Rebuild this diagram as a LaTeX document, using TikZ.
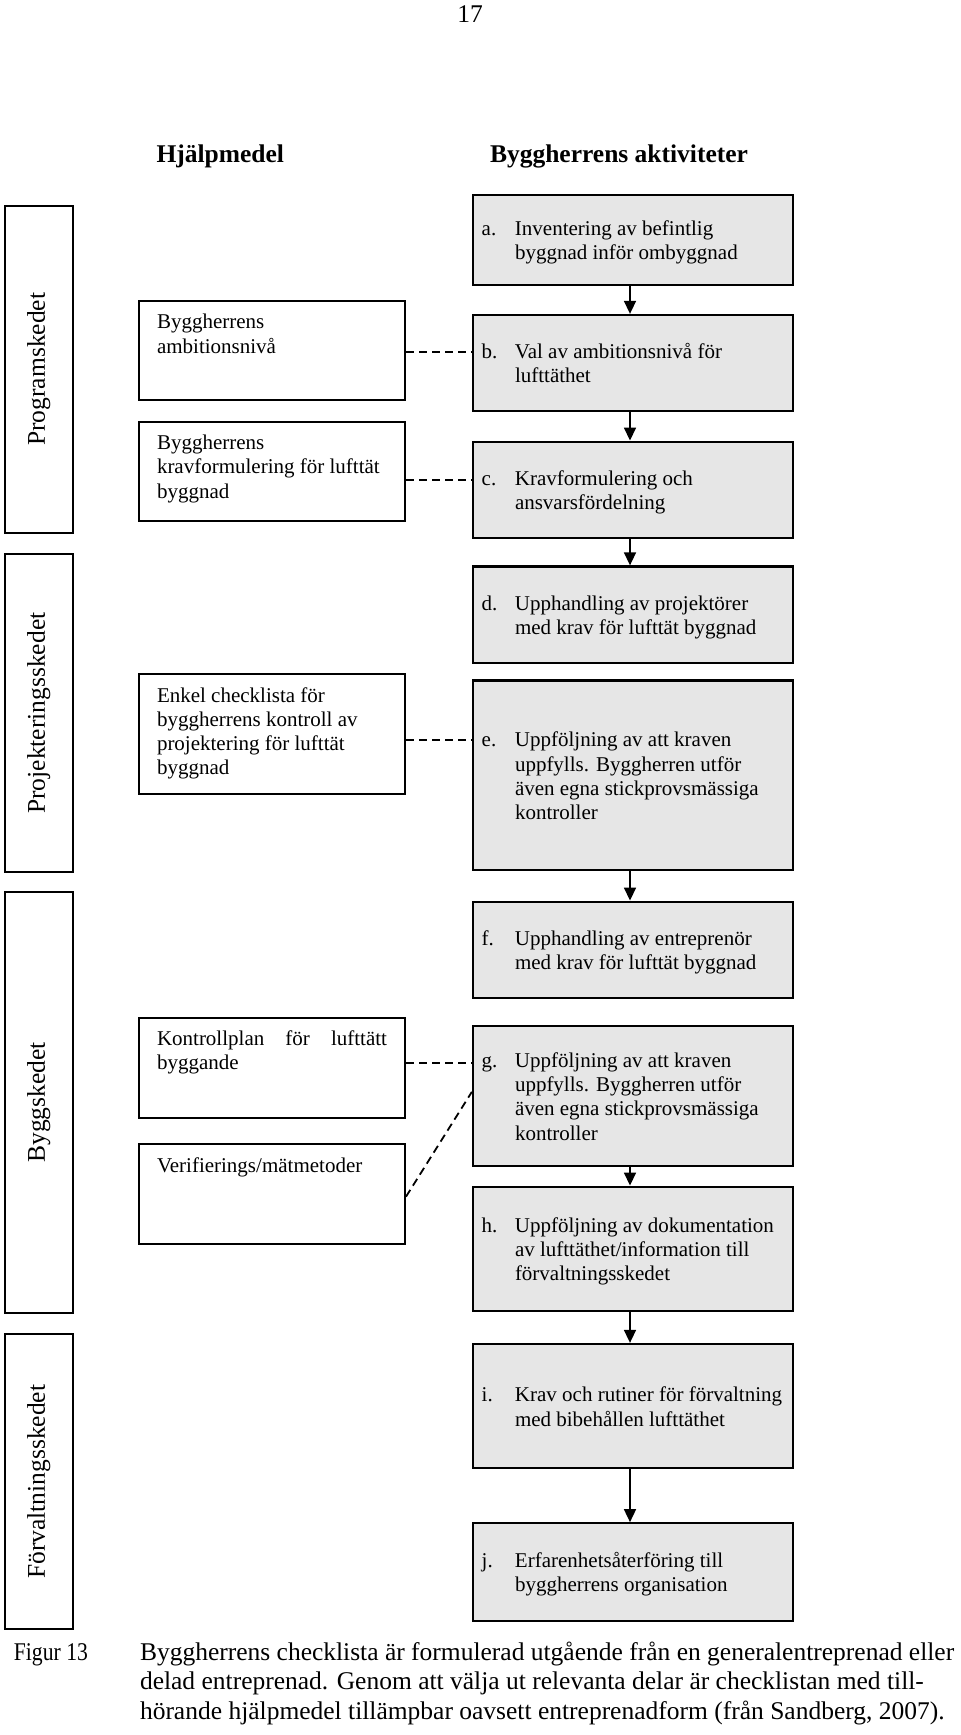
\documentclass[tikz,border=0pt]{standalone}
\usepackage{fontspec}
\setmainfont{Liberation Serif}
\usetikzlibrary{arrows.meta}
\newlength\px
\setlength\px{0.5pt}
\definecolor{actfill}{RGB}{230,230,230}
\newcommand\act[2]{\makebox[302.6\px][l]{\raisebox{-3\px}[\height][\depth]{\begin{tabular}{@{}p{33.3\px}@{}l@{}}#1 & #2\end{tabular}}}}
\newcommand\hjtxt[2]{\parbox[c][#1\px][t]{230\px}{\vspace*{11\px}#2}}
\begin{document}
\begin{tikzpicture}[x=0.5pt,y=-0.5pt,
  small/.style={font=\fontsize{10.5}{12.1}\selectfont},
  big/.style={font=\fontsize{12.75}{14.85}\selectfont},
  phase/.style={draw, line width=0.85pt, rotate=90, inner sep=0pt,
    minimum height=67.7\px, big},
  hj/.style={draw, line width=1pt, inner sep=0pt, minimum width=266\px, small},
  actbox/.style={draw, fill=actfill, line width=1.15pt, inner xsep=8.7\px,
    inner ysep=0pt, small},
  arr/.style={line width=0.8pt, -{Triangle[width=6pt,length=6.5pt]}},
  dashline/.style={line width=0.9pt, dash pattern=on 4pt off 2.5pt}
]
\useasboundingbox (0,0) rectangle (960,1735);

% page number and headers
\node[big, anchor=base] (pnum) at (470,22) {17};
\node[big, anchor=base, font=\fontsize{12.75}{14.85}\selectfont\bfseries] (h1) at (220.3,162.7) {Hjälpmedel};
\node[big, anchor=base, font=\fontsize{12.75}{14.85}\selectfont\bfseries] (h2) at (619,162.7) {Byggherrens aktiviteter};

% phases
\node[phase, minimum width=327\px] (p1) at (38.85,369.2) {Programskedet};
\node[phase, minimum width=318.3\px] (p2) at (38.85,713.15) {Projekteringsskedet};
\node[phase, minimum width=421.6\px] (p3) at (38.85,1102.5) {Byggskedet};
\node[phase, minimum width=295.3\px] (p4) at (38.85,1481.65) {Förvaltningsskedet};

% aids (hjälpmedel)
\node[hj] (amb) at (272,350.5) {\hjtxt{99}{\strut\mbox{Byggherrens}\\\mbox{ambitionsnivå}}};
\node[hj] (krav) at (272,471.35) {\hjtxt{99.3}{\strut\mbox{Byggherrens}\\\mbox{kravformulering för lufttät}\\\mbox{byggnad}}};
\node[hj] (enkel) at (272,734.15) {\hjtxt{119.7}{\strut\mbox{Enkel checklista för}\\\mbox{byggherrens kontroll av}\\\mbox{projektering för lufttät}\\\mbox{byggnad}}};
\node[hj] (kontroll) at (272,1067.7) {\hjtxt{100}{\strut\hbox to 230\px{Kontrollplan\hfill för\hfill lufttätt}\\\mbox{byggande}}};
\node[hj] (verif) at (272,1194.15) {\hjtxt{99.7}{\strut\mbox{Verifierings/mätmetoder}}};

% activities
\node[actbox, minimum height=90\px] (a) at (633,240) {\act{a.}{Inventering av befintlig\\ & byggnad inför ombyggnad}};
\node[actbox, minimum height=95.7\px] (b) at (633,362.85) {\act{b.}{Val av ambitionsnivå för\\ & lufttäthet}};
\node[actbox, minimum height=96.6\px] (c) at (633,490) {\act{c.}{Kravformulering och\\ & ansvarsfördelning}};
\node[actbox, minimum height=96.5\px] (d) at (633,614.75) {\act{d.}{Upphandling av projektörer\\ & med krav för lufttät byggnad}};
\node[actbox, minimum height=189.5\px] (e) at (633,775.25) {\act{e.}{Uppföljning av att kraven\\ & uppfylls. Byggherren utför\\ & även egna stickprovsmässiga\\ & kontroller}};
\node[actbox, minimum height=96.6\px] (f) at (633,950) {\act{f.}{Upphandling av entreprenör\\ & med krav för lufttät byggnad}};
\node[actbox, minimum height=139.7\px] (g) at (633,1095.85) {\act{g.}{Uppföljning av att kraven\\ & uppfylls. Byggherren utför\\ & även egna stickprovsmässiga\\ & kontroller}};
\node[actbox, minimum height=124.3\px] (h) at (633,1248.85) {\act{h.}{Uppföljning av dokumentation\\ & av lufttäthet/information till\\ & förvaltningsskedet}};
\node[actbox, minimum height=124.3\px] (i) at (633,1406.15) {\act{i.}{Krav och rutiner för förvaltning\\ & med bibehållen lufttäthet}};
\node[actbox, minimum height=97.4\px] (j) at (633,1572) {\act{j.}{Erfarenhetsåterföring till\\ & byggherrens organisation}};

% flow arrows
\foreach \s/\t in {a/b, b/c, c/d, e/f, g/h, h/i, i/j}
  \draw[arr] ([xshift=-3\px]\s.south) -- ([xshift=-3\px]\t.north);

% dashed links
\coordinate (yb) at (0,351.7);
\coordinate (yc) at (0,480);
\coordinate (ye) at (0,740);
\coordinate (yg) at (0,1063.3);
\draw[dashline] (amb.east |- yb) -- (b.west |- yb);
\draw[dashline] (krav.east |- yc) -- (c.west |- yc);
\draw[dashline] (enkel.east |- ye) -- (e.west |- ye);
\draw[dashline] (kontroll.east |- yg) -- (g.west |- yg);
\draw[dashline] ([yshift=-2.5\px]verif.east) -- ([yshift=4\px]g.west);

% caption
\node[big, anchor=base west, inner sep=0pt] (fig) at (13.5,1660) {\scalebox{0.85}[1]{Figur 13}};
\node[big, anchor=base west, inner sep=0pt] (cap) at (139.6,1660) {\begin{tabular}[t]{@{}l@{}}Byggherrens checklista är formulerad utgående från en generalentreprenad eller\\delad entreprenad. Genom att välja ut relevanta delar är checklistan med till-\\hörande hjälpmedel tillämpbar oavsett entreprenadform (från Sandberg, 2007).\end{tabular}};
\end{tikzpicture}
\end{document}
